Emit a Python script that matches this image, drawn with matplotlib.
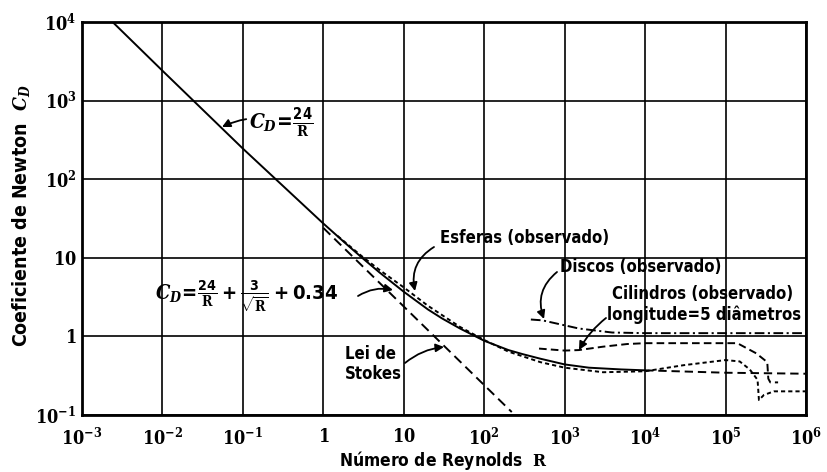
import matplotlib
matplotlib.use("Agg")
import matplotlib.pyplot as plt

plt.rcParams['font.family'] = ['DejaVu Sans']
plt.rcParams['font.stretch'] = 'condensed'
plt.rcParams['font.weight'] = 'bold'
plt.rcParams['mathtext.fontset'] = 'custom'
plt.rcParams['mathtext.rm'] = 'DejaVu Sans:bold:stretch=condensed'
plt.rcParams['mathtext.it'] = 'DejaVu Serif:italic:bold'
plt.rcParams['mathtext.bf'] = 'DejaVu Serif:bold'
plt.rcParams['lines.scale_dashes'] = False

# ---- data ----
solid_R = [0.0024, 0.01, 0.1, 0.3, 1, 2, 3, 5, 10, 20, 30, 50, 100, 200, 300, 500, 1000, 2000, 5000, 10000]
solid_CD = [10000, 2400, 245, 86, 27.3, 14.5, 10.1, 6.5, 3.7, 2.2, 1.69, 1.26, 0.88, 0.67, 0.595, 0.52, 0.44, 0.40, 0.38, 0.37]

ext_R = [1e4, 1e5, 1e6]
ext_CD = [0.37, 0.345, 0.335]

stokes_R = [1, 220]
stokes_CD = [24, 0.109]

spheres_R = [1.5, 3, 5, 10, 20, 50, 100, 200, 500, 1e3, 3e3, 1e4, 3e4, 1e5, 1.5e5, 2e5, 2.5e5, 2.6e5, 3e5, 4e5, 6e5, 1e6]
spheres_CD = [19, 10.5, 7.0, 4.2, 2.45, 1.32, 0.9, 0.64, 0.47, 0.40, 0.35, 0.36, 0.43, 0.50, 0.48, 0.38, 0.28, 0.155, 0.18, 0.2, 0.2, 0.2]

discs_R = [380, 530, 1500, 3900, 1e4, 1e6]
discs_CD = [1.64, 1.6, 1.26, 1.12, 1.1, 1.1]

cyl_R = [480, 1000, 1500, 3000, 6000, 1e4, 1.4e5, 2.4e5, 3.3e5, 3.4e5, 3.6e5, 4.5e5]
cyl_CD = [0.70, 0.66, 0.67, 0.74, 0.80, 0.82, 0.82, 0.61, 0.47, 0.29, 0.26, 0.26]

xticks = [1e-3, 1e-2, 1e-1, 1, 10, 1e2, 1e3, 1e4, 1e5, 1e6]
xticklabels = [r'$\mathbf{10}^{\mathbf{-3}}$', r'$\mathbf{10}^{\mathbf{-2}}$', r'$\mathbf{10}^{\mathbf{-1}}$',
               r'$\mathbf{1}$', r'$\mathbf{10}$', r'$\mathbf{10}^{\mathbf{2}}$', r'$\mathbf{10}^{\mathbf{3}}$',
               r'$\mathbf{10}^{\mathbf{4}}$', r'$\mathbf{10}^{\mathbf{5}}$', r'$\mathbf{10}^{\mathbf{6}}$']
yticks = [1e-1, 1, 10, 1e2, 1e3, 1e4]
yticklabels = [r'$\mathbf{10}^{\mathbf{-1}}$', r'$\mathbf{1}$', r'$\mathbf{10}$',
               r'$\mathbf{10}^{\mathbf{2}}$', r'$\mathbf{10}^{\mathbf{3}}$', r'$\mathbf{10}^{\mathbf{4}}$']

W, H = 828, 472
fig = plt.figure(figsize=(W / 100, H / 100), dpi=100)
ax = fig.add_axes([82 / W, 1 - 415 / H, (806 - 82) / W, (415 - 22) / H])
ax.set_xscale('log')
ax.set_yscale('log')
ax.set_xlim(1e-3, 1e6)
ax.set_ylim(1e-1, 1e4)

ax.set_xticks(xticks)
ax.set_xticklabels(xticklabels)
ax.set_yticks(yticks)
ax.set_yticklabels(yticklabels)
ax.minorticks_off()
ax.tick_params(length=0, labelsize=13)
ax.tick_params(axis='x', pad=9)
ax.tick_params(axis='y', pad=4)
ax.grid(True, which='major', color='black', lw=1.2)
for s in ax.spines.values():
    s.set_linewidth(2.0)

lw = 1.4
ax.plot(solid_R, solid_CD, color='black', lw=lw, solid_capstyle='butt')
ax.plot(ext_R, ext_CD, color='black', lw=lw, dashes=(6, 3.5))
ax.plot(stokes_R, stokes_CD, color='black', lw=lw, dashes=(7, 4))
ax.plot(spheres_R, spheres_CD, color='black', lw=lw, dashes=(3, 2.2))
ax.plot(discs_R, discs_CD, color='black', lw=lw, dashes=(7, 2.5, 1.5, 2.5))
ax.plot(cyl_R, cyl_CD, color='black', lw=lw, dashes=(5.5, 3))


def fp(x, y):
    return (x, H - y)


ap = dict(arrowstyle='-|>', color='black', lw=1.3, mutation_scale=12, shrinkA=0, shrinkB=0)
fs = 12

# C_D = 24/R
ax.annotate(r'$C_D\!=\!\frac{\mathrm{24}}{\mathbf{R}}$', xy=fp(222, 127), xycoords='figure pixels',
            xytext=fp(249, 122), textcoords='figure pixels', fontsize=15, ha='left', va='center',
            arrowprops=dict(ap, connectionstyle='arc3,rad=0.2'))

# formula
fig.text(155 / W, 1 - 296 / H,
         r'$C_D\!=\!\frac{\mathrm{24}}{\mathbf{R}}+\frac{\mathrm{3}}{\sqrt{\mathbf{R}}}+\mathrm{0.34}$',
         fontsize=14.5, ha='left', va='center')
ax.annotate('', xy=fp(393, 290), xycoords='figure pixels', xytext=fp(358, 296), textcoords='figure pixels',
            arrowprops=dict(ap, connectionstyle='arc3,rad=-0.2'))

# Esferas
fig.text(440 / W, 1 - 238 / H, 'Esferas (observado)', fontsize=fs, ha='left', va='center')
ax.annotate('', xy=fp(415, 291), xycoords='figure pixels', xytext=fp(434, 247), textcoords='figure pixels',
            arrowprops=dict(ap, connectionstyle='arc3,rad=0.35'))

# Discos
fig.text(560 / W, 1 - 267 / H, 'Discos (observado)', fontsize=fs, ha='left', va='center')
ax.annotate('', xy=fp(544, 319), xycoords='figure pixels', xytext=fp(557, 272), textcoords='figure pixels',
            arrowprops=dict(ap, connectionstyle='arc3,rad=0.35'))

# Cilindros
fig.text(703 / W, 1 - 294 / H, 'Cilindros (observado)', fontsize=fs, ha='center', va='center')
fig.text(704 / W, 1 - 315 / H, 'longitude=5 diâmetros', fontsize=fs, ha='center', va='center')
ax.annotate('', xy=fp(579, 350), xycoords='figure pixels', xytext=fp(606, 318), textcoords='figure pixels',
            arrowprops=dict(ap, connectionstyle='arc3,rad=0.1'))

# Stokes
fig.text(345 / W, 1 - 364 / H, 'Lei de\nStokes', fontsize=fs, ha='left', va='center', linespacing=1.15)
ax.annotate('', xy=fp(444, 347), xycoords='figure pixels', xytext=fp(405, 363), textcoords='figure pixels',
            arrowprops=dict(ap, connectionstyle='arc3,rad=-0.15'))

fig.text(21 / W, 1 - 216 / H, r'Coeficiente de Newton  $C_D$', fontsize=14, rotation=90,
         ha='center', va='center')
fig.text(443 / W, 1 - 460 / H, r'Número de Reynolds  $\mathbf{R}$', fontsize=12.5, ha='center', va='center')

fig.savefig('out.png', dpi=100)
